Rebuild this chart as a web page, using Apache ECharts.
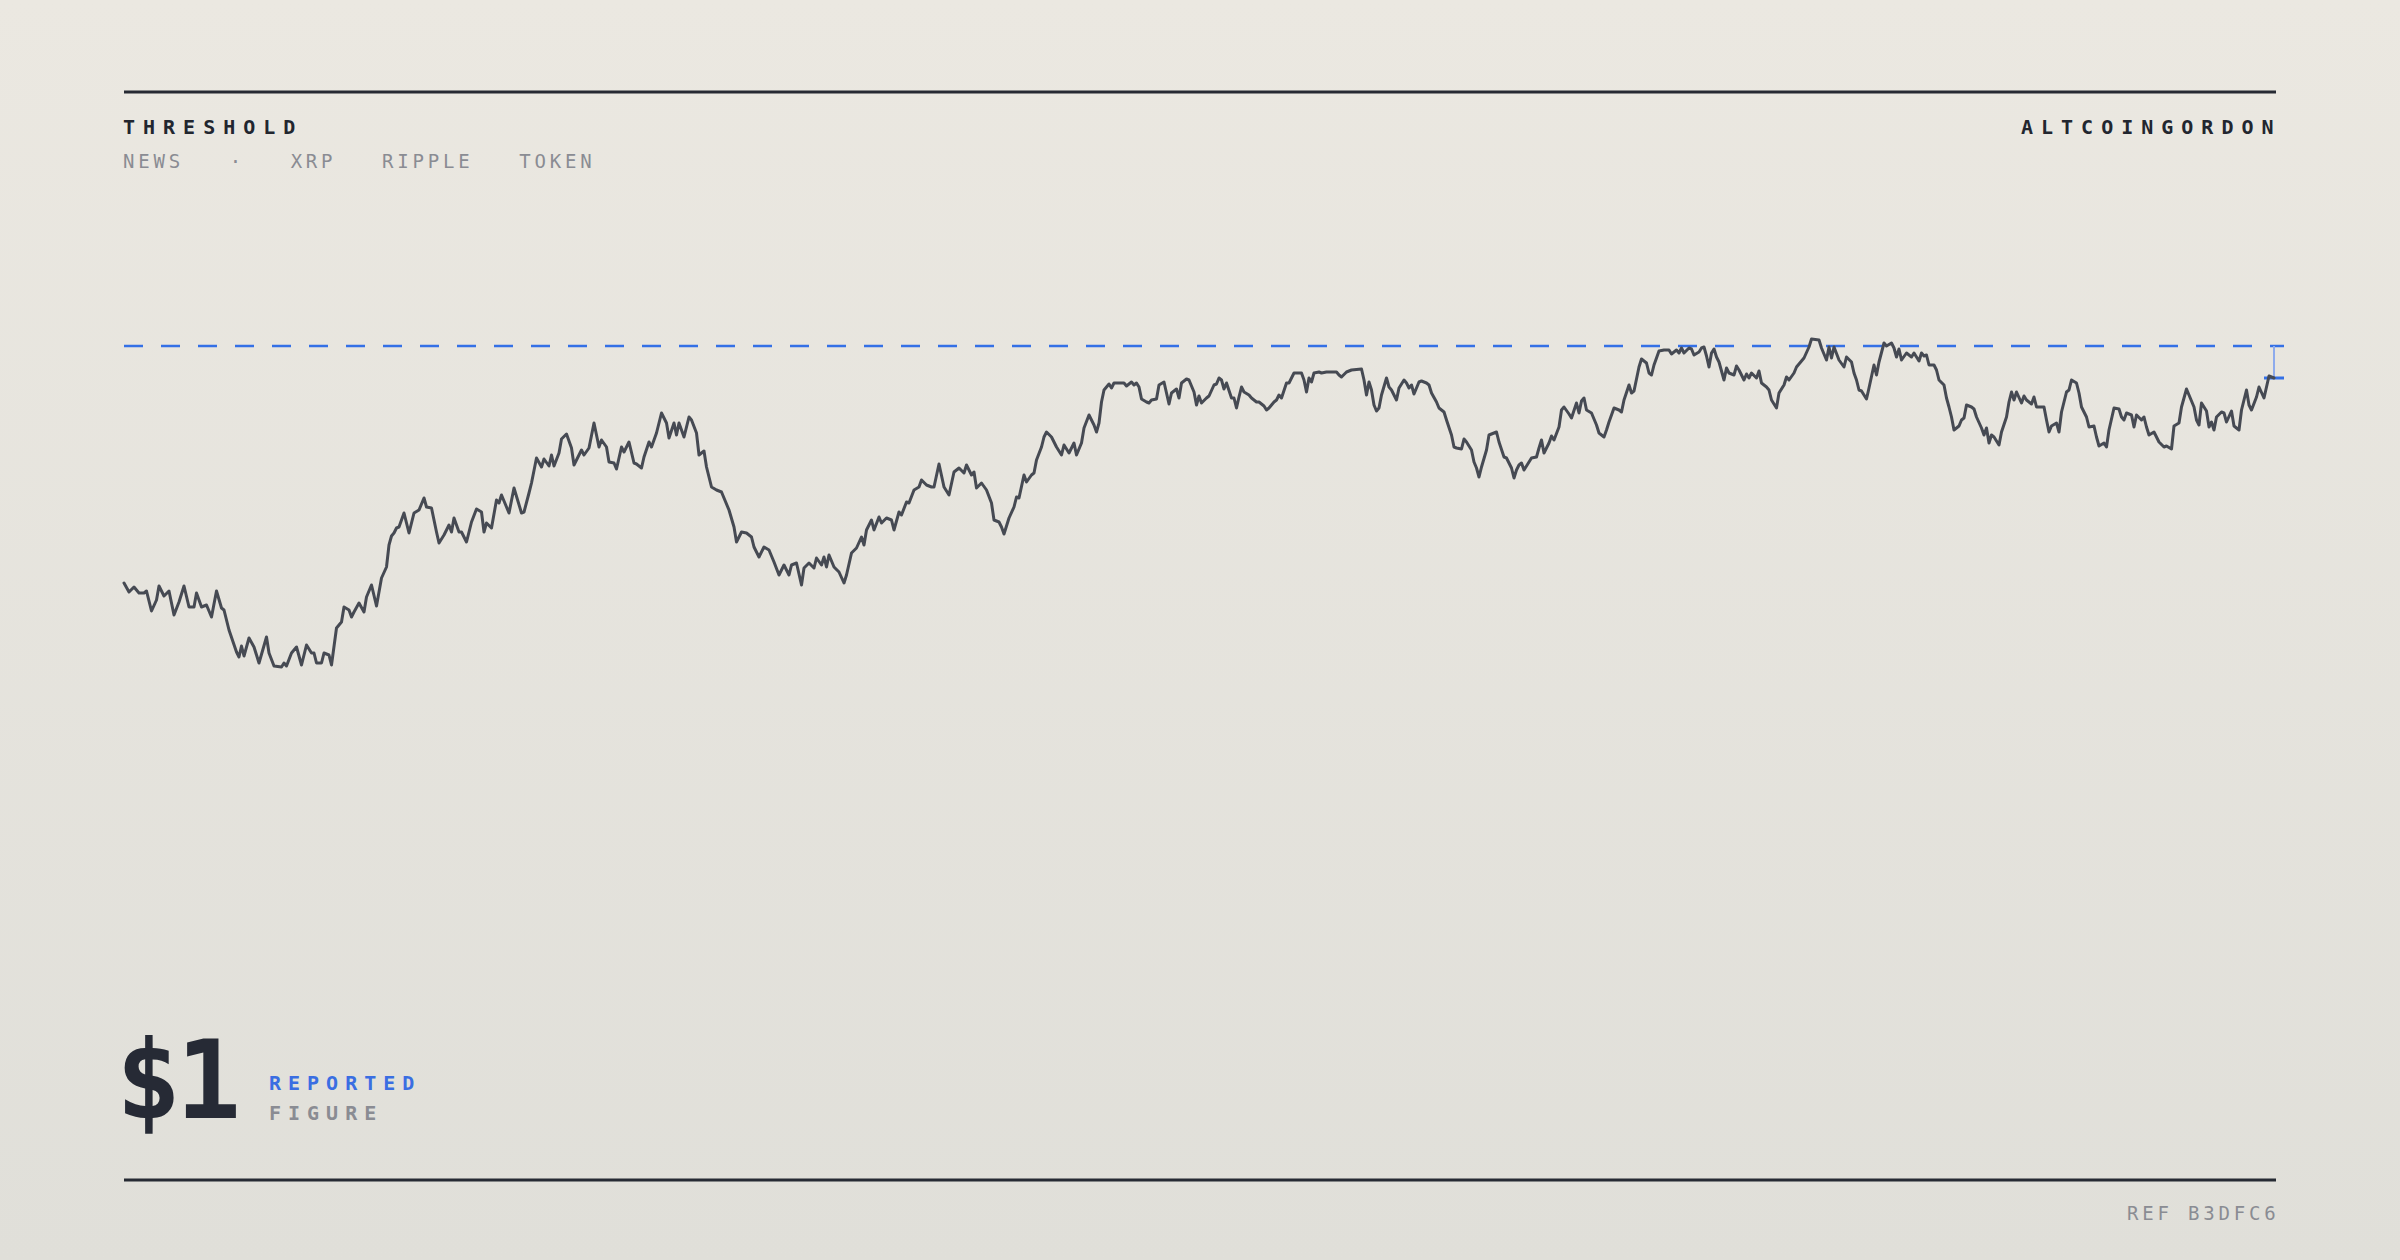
<!DOCTYPE html>
<html>
<head>
<meta charset="utf-8">
<script src="https://cdn.jsdelivr.net/npm/echarts@6/dist/echarts.min.js"></script>
<style>
html,body{margin:0;padding:0;background:#e6e4de;}
#c{width:2400px;height:1260px;}
</style>
</head>
<body>
<div id="c"></div>
<script>
// ---- data: [step, price] ----
const pricePoints = [
[0,.763],[2,.754],[4,.759],[6,.753],[8,.753],[9,.755],[11,.735],[13,.746],[14,.760],[16,.750],[18,.755],[20,.731],[22,.744],[24,.760],[26,.739],[28,.739],[29,.753],[31,.739],[33,.741],[35,.729],[37,.755],[39,.738],[40,.736],[42,.716],[45,.694],[46,.689],[47,.700],[48,.690],[50,.708],[52,.699],[54,.683],[57,.709],[58,.693],[60,.680],[63,.679],[64,.683],[65,.680],[67,.693],[69,.699],[71,.681],[73,.701],[75,.693],[76,.693],[77,.683],[79,.683],[80,.693],[82,.691],[83,.681],[85,.718],[87,.724],[88,.739],[90,.736],[91,.729],[92,.734],[94,.743],[96,.734],[97,.749],[99,.761],[101,.740],[103,.768],[105,.779],[106,.801],[107,.810],[108,.813],[109,.818],[110,.819],[112,.833],[114,.813],[116,.833],[118,.836],[120,.848],[121,.839],[123,.838],[125,.814],[126,.803],[128,.811],[130,.821],[131,.814],[132,.828],[134,.814],[135,.814],[137,.804],[139,.824],[141,.837],[143,.834],[144,.814],[145,.823],[147,.818],[149,.846],[150,.843],[151,.851],[153,.839],[154,.833],[156,.858],[159,.833],[160,.834],[162,.853],[163,.863],[165,.888],[167,.879],[168,.887],[170,.880],[171,.891],[172,.880],[174,.893],[175,.907],[177,.912],[179,.898],[180,.881],[183,.896],[184,.891],[186,.898],[188,.923],[190,.899],[191,.906],[193,.899],[194,.884],[196,.883],[197,.877],[199,.899],[200,.894],[202,.904],[204,.883],[205,.882],[207,.878],[208,.889],[210,.904],[211,.899],[213,.913],
[215,.933],[217,.923],[218,.908],[220,.923],[221,.911],[222,.923],[224,.909],[226,.929],[227,.926],[229,.913],[230,.891],[232,.895],[233,.879],[235,.859],[237,.856],[239,.854],[242,.836],[244,.819],[245,.804],[247,.814],[249,.813],[251,.809],[252,.799],[254,.789],[256,.799],[258,.796],[260,.784],[262,.771],[264,.781],[266,.771],[267,.781],[269,.783],[271,.761],[272,.778],[274,.783],[276,.778],[277,.788],[279,.781],[280,.789],[281,.779],[282,.791],[284,.779],[286,.774],[288,.763],[289,.771],[291,.793],[293,.798],[295,.809],[296,.801],[297,.816],[299,.826],[300,.816],[302,.829],[303,.823],[305,.828],[307,.826],[308,.816],[310,.834],[311,.831],[313,.844],[314,.843],[316,.856],[318,.859],[319,.866],[321,.861],[323,.859],[324,.859],[326,.882],[328,.859],[330,.851],[332,.874],[334,.878],[336,.873],[337,.881],[339,.871],[340,.874],[341,.858],[343,.863],[345,.856],[347,.843],[348,.826],[350,.824],[351,.819],[352,.812],[354,.828],[356,.839],[357,.849],[358,.848],[360,.871],[361,.864],[363,.871],[364,.873],[365,.886],[367,.899],[368,.909],[369,.914],[371,.909],[373,.899],[375,.891],[376,.901],[378,.893],[380,.903],[381,.891],[383,.903],[384,.918],[386,.931],[388,.921],[389,.914],[390,.923],
[391,.944],[392,.956],[394,.962],[395,.958],[396,.963],[400,.963],[401,.960],[403,.964],[404,.961],[405,.963],[406,.959],[407,.947],[409,.944],[410,.943],[411,.946],[413,.947],[414,.961],[416,.964],[417,.953],[418,.942],[419,.953],[421,.957],[422,.948],[423,.963],[425,.967],[426,.966],[428,.954],[429,.941],[430,.950],[431,.943],[433,.948],[434,.950],[436,.961],[437,.962],[438,.968],[439,.966],[440,.957],[441,.963],[443,.948],[444,.948],[445,.938],[446,.949],[447,.959],[448,.954],[450,.951],[451,.948],[453,.944],[454,.944],[456,.940],[457,.936],[458,.938],[460,.944],[461,.946],[462,.951],[463,.948],[465,.963],[466,.963],[468,.973],[470,.973],[471,.973],[472,.966],[473,.954],[474,.968],[475,.964],[476,.973],[478,.974],[479,.973],[481,.974],[482,.974],[485,.974],[486,.971],[487,.969],[489,.974],[491,.976],[495,.977],[496,.966],[497,.951],[498,.964],[499,.956],[500,.941],[501,.935],[502,.938],[503,.951],[505,.968],[506,.959],[507,.956],[509,.946],[510,.958],[512,.966],[513,.963],[514,.958],[515,.961],[516,.952],[518,.964],[519,.965],[521,.963],[522,.961],[523,.953],[525,.944],[526,.938],[528,.934],[529,.926],[531,.911],[532,.899],[533,.898],[535,.897],[536,.907],[537,.904],[539,.896],[540,.884],[541,.878],[542,.869],[543,.879],[545,.896],[546,.911],[548,.913],[549,.914],[550,.904],[552,.889],[553,.888],[555,.878],[556,.868],[557,.876],[558,.881],[559,.883],[560,.876],[562,.884],[563,.888],[565,.889],[566,.898],[567,.906],[568,.893],[570,.903],[571,.910],[572,.906],[574,.919],[575,.936],[576,.939],[578,.932],[579,.928],[581,.943],[582,.933],[583,.945],[584,.948],[585,.936],[587,.933],[589,.921],[590,.913],
[592,.909],[593,.916],[594,.924],[596,.938],[598,.936],[599,.934],[600,.946],[602,.961],[603,.953],[604,.955],[606,.979],[607,.987],[609,.983],[610,.973],[611,.971],[612,.981],[613,.988],[614,.995],[616,.996],[618,.996],[619,.992],[621,.996],[622,.993],[623,.998],[624,.993],[626,.998],[627,.997],[628,.991],[630,.994],[631,.998],[632,.999],[633,.990],[634,.979],[635,.993],[636,.997],[637,.989],[638,.984],[640,.966],[641,.978],[642,.973],[644,.971],[645,.980],[646,.976],[648,.966],[649,.972],[650,.968],[651,.973],[653,.968],[654,.975],[655,.963],[657,.959],[658,.956],[659,.946],[661,.938],[662,.953],[664,.961],[665,.969],[666,.966],[668,.973],[669,.979],[671,.985],[672,.988],[674,.999],[675,1.007],[678,1.006],[679,.998],[681,.986],[682,.999],[683,.988],[684,.999],[686,.986],[688,.979],[689,.989],[691,.984],
[692,.973],[693,.966],[694,.956],[695,.955],[697,.947],[698,.958],[700,.981],[701,.971],[702,.984],[704,1.003],[705,1.000],[707,1.003],[708,.998],[709,.989],[710,.997],[711,.986],[713,.993],[715,.989],[716,.993],[718,.985],[719,.993],[720,.990],[721,.991],[722,.981],[724,.981],[725,.976],[726,.966],[728,.961],[729,.948],[730,.939],[731,.929],[732,.916],[734,.920],[735,.926],[736,.928],[737,.941],[739,.939],[740,.937],[741,.929],[743,.918],[744,.911],[745,.918],[746,.903],[747,.911],[748,.909],[750,.901],[751,.914],[753,.929],[754,.944],[755,.954],[756,.946],[757,.954],[759,.943],[760,.950],[761,.946],[763,.942],[764,.949],[765,.939],[767,.939],[768,.939],[769,.926],[770,.914],[771,.920],[773,.923],[774,.914],[775,.934],[777,.954],[778,.956],[779,.966],[781,.963],[782,.953],[783,.939],[785,.929],[786,.919],[788,.920],[789,.909],[790,.900],[792,.903],[793,.899],[794,.916],[796,.938],[798,.937],[799,.929],[800,.926],[801,.933],[803,.931],[804,.919],[805,.931],[807,.926],[808,.929],[809,.919],[810,.911],[812,.914],[813,.909],[814,.904],[816,.899],[817,.900],[819,.897],[820,.920],[822,.923],[823,.939],[825,.957],[826,.951],[828,.939],[829,.926],[830,.921],[831,.943],[833,.935],[834,.919],[835,.924],[836,.916],[837,.929],[839,.934],[840,.933],[841,.924],[843,.935],[844,.920],[846,.916],[847,.936],[849,.956],[850,.941],[851,.936],[853,.949],[854,.959],[856,.948],[857,.959],[858,.970],[860,.968]
];
const THRESHOLD = 1.0;
const STEP_MAX = 860;
const Y_MIN = 0.4, Y_MAX = 1.2;

// ---- texts ----
const TITLE = 'THRESHOLD';
const TAGS = 'NEWS   \u00B7   XRP   RIPPLE   TOKEN';
const SOURCE = 'ALTCOINGORDON';
const HEADLINE = '$1';
const LABEL_TOP = 'REPORTED';
const LABEL_BOTTOM = 'FIGURE';
const REF = 'REF B3DFC6';

const MONO = '"DejaVu Sans Mono", "Liberation Mono", monospace';
const INK = '#262a33';
const GREY = '#8a8c93';
const BLUE = '#3470e6';

const spacing = {};
function txt(text, x, y, size, weight, color, ls) {
  spacing[text] = ls;
  return {
    type: 'text', x: x, y: y, silent: true, z: 10,
    style: {
      text: text, font: weight + ' ' + size + 'px ' + MONO, fill: color,
      textAlign: 'left', textVerticalAlign: 'middle', align: 'left', verticalAlign: 'middle'
    }
  };
}

const last = pricePoints[pricePoints.length - 1];

const chart = echarts.init(document.getElementById('c'), null, {renderer: 'svg', width: 2400, height: 1260});

const option = {
  animation: false,
  backgroundColor: {
    type: 'linear', x: 0, y: 0, x2: 0, y2: 1,
    colorStops: [{offset: 0, color: '#ebe8e1'}, {offset: 1, color: '#e0dfd9'}]
  },
  grid: {left: 124, top: 146, width: 2150, height: 800, containLabel: false},
  xAxis: {type: 'value', min: 0, max: STEP_MAX, show: false},
  yAxis: {type: 'value', min: Y_MIN, max: Y_MAX, show: false},
  series: [
    {
      type: 'custom', silent: true, z: 2, clip: false,
      data: [[last[0], last[1], THRESHOLD]],
      renderItem: function (params, api) {
        const t = api.value(0), v = api.value(1), th = api.value(2);
        const pEnd = api.coord([t, v]);
        const pTh = api.coord([t, th]);
        const pStart = api.coord([0, th]);
        return {
          type: 'group',
          children: [
            {type: 'line', shape: {x1: pStart[0], y1: pTh[1], x2: pTh[0] + 10, y2: pTh[1]},
             style: {stroke: BLUE, lineWidth: 2.4, lineDash: [19, 18]}},
            {type: 'line', shape: {x1: pTh[0], y1: pTh[1], x2: pEnd[0], y2: pEnd[1]},
             style: {stroke: '#8eabec', lineWidth: 2}},
            {type: 'line', shape: {x1: pEnd[0] - 10, y1: pEnd[1], x2: pEnd[0] + 10, y2: pEnd[1]},
             style: {stroke: BLUE, lineWidth: 3}}
          ]
        };
      }
    },
    {
      type: 'line', data: pricePoints, symbol: 'none', showSymbol: false, silent: true, z: 3,
      lineStyle: {color: '#464a53', width: 3, join: 'round', cap: 'round'}
    }
  ],
  graphic: [
    {type: 'line', silent: true, shape: {x1: 124, y1: 92, x2: 2276, y2: 92}, style: {stroke: INK, lineWidth: 3}},
    {type: 'line', silent: true, shape: {x1: 124, y1: 1180, x2: 2276, y2: 1180}, style: {stroke: INK, lineWidth: 3}},
    txt(TITLE, 123, 127, 20, 'bold', '#22262f', 8),
    txt(TAGS, 123, 161, 19, 'normal', GREY, 3.8),
    txt(SOURCE, 2021, 127, 20, 'bold', '#22262f', 8),
    txt(HEADLINE, 116, 1080, 108, 'bold', '#262a35', -5),
    txt(LABEL_TOP, 269, 1083, 20, 'bold', '#3a6ee2', 7),
    txt(LABEL_BOTTOM, 269, 1113, 20, 'bold', GREY, 7),
    txt(REF, 2127, 1213, 19, 'normal', GREY, 3.8)
  ]
};

function applySpacing() {
  document.querySelectorAll('#c svg text').forEach(function (el) {
    const s = spacing[el.textContent];
    if (s != null) {
      el.style.letterSpacing = s + 'px';
      el.style.whiteSpace = 'pre';
      el.setAttribute('xml:space', 'preserve');
    }
  });
}

chart.setOption(option);
applySpacing();
chart.on('finished', applySpacing);
setTimeout(applySpacing, 30);
</script>
</body>
</html>
